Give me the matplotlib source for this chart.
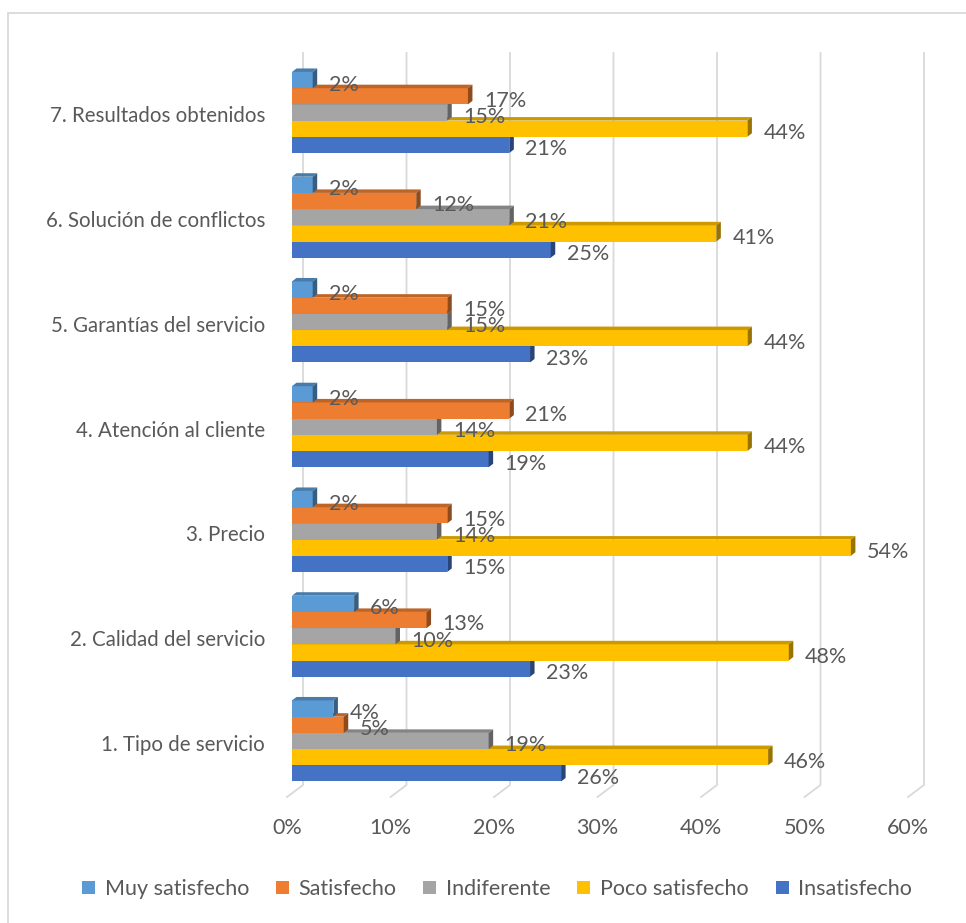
import matplotlib
matplotlib.use("Agg")
import matplotlib.pyplot as plt
import matplotlib.colors as mcolors
from matplotlib.patches import Polygon, Patch, Rectangle

# Valores por categoria (porcentaje de respuestas)
categories = [
    "1. Tipo de servicio",
    "2. Calidad del servicio",
    "3. Precio",
    "4. Atención al cliente",
    "5. Garantías del servicio",
    "6. Solución de conflictos",
    "7. Resultados obtenidos",
]
series_names = ["Muy satisfecho", "Satisfecho", "Indiferente",
                "Poco satisfecho", "Insatisfecho"]
muy_satisfecho = [4, 6, 2, 2, 2, 2, 2]
satisfecho = [5, 13, 15, 21, 15, 12, 17]
indiferente = [19, 10, 14, 14, 15, 21, 15]
poco_satisfecho = [46, 48, 54, 44, 44, 41, 44]
insatisfecho = [26, 23, 15, 19, 23, 25, 21]
x_ticks = [0, 10, 20, 30, 40, 50, 60]

COLORS = ["#5B9BD5", "#ED7D31", "#A5A5A5", "#FFC000", "#4472C4"]
TEXT = "#595959"
GRID = "#D9D9D9"
FONT = "Lato"

W, H, DPI = 966, 923, 100
plt.rcParams["font.family"] = [FONT, "DejaVu Sans"]

fig = plt.figure(figsize=(W / DPI, H / DPI), dpi=DPI)

# area de trazado en pixeles: eje x 0..60 %, y suelo/pared del grafico 3D
x0_px, x1_px = 292, 913
top_px, bot_px = 53, 797
ax = fig.add_axes([x0_px / W, 1 - bot_px / H,
                   (x1_px - x0_px) / W, (bot_px - top_px) / H])
ax.axis("off")

px_x = (x1_px - x0_px) / 60.0      # pixeles por 1 %
px_y = 104.75                     # pixeles por categoria
y_bot = -0.535
y_top = y_bot + (bot_px - top_px) / px_y
ax.set_xlim(0, 60)
ax.set_ylim(y_bot, y_top)

# profundidad de las barras y del suelo (en unidades de datos)
dx = 4.5 / px_x
dy = 3.5 / px_y
wall_dx = 11 / px_x
floor_dx = -5 / px_x
back_floor = y_bot + 12 / px_y

# rejilla: pared del fondo + diagonal del suelo
for t in x_ticks:
    ax.plot([t + wall_dx, t + wall_dx, t + floor_dx],
            [y_top, back_floor, y_bot],
            color=GRID, lw=1.3, zorder=1, clip_on=False,
            solid_joinstyle="miter")
    ax.annotate(f"{t}%", xy=(t + floor_dx, y_bot), xytext=(0, -22.5),
                textcoords="offset points", ha="center", va="center",
                fontsize=15.5, color=TEXT, annotation_clip=False)


def shade(c, f):
    r, g, b = mcolors.to_rgb(c)
    return (r * f, g * f, b * f)


bar_h = 16.2 / px_y
values = [muy_satisfecho, satisfecho, indiferente, poco_satisfecho, insatisfecho]
ys = list(range(len(categories)))

# se dibuja de abajo hacia arriba para que cada barra tape la cara
# superior de la que esta debajo
for k in range(len(series_names) - 1, -1, -1):
    vals = values[k]
    col = COLORS[k]
    z = 2 + (len(series_names) - 1 - k)
    offs = (2 - k) * bar_h
    centers = [y + offs for y in ys]
    ax.barh(centers, vals, height=bar_h, color=col, zorder=z,
            linewidth=0)
    for yc, v in zip(centers, vals):
        yb, yt = yc - bar_h / 2, yc + bar_h / 2
        top = [(0, yt), (v, yt), (v + dx, yt + dy), (dx, yt + dy)]
        side = [(v, yb), (v + dx, yb + dy), (v + dx, yt + dy), (v, yt)]
        ax.add_patch(Polygon(top, closed=True, facecolor=shade(col, 0.8),
                             edgecolor="none", zorder=z))
        ax.add_patch(Polygon(side, closed=True, facecolor=shade(col, 0.6),
                             edgecolor="none", zorder=z))
        ax.annotate(f"{v}%", xy=(v, yc), xytext=(11.5, -3.2),
                    textcoords="offset points", ha="left", va="center",
                    fontsize=15.5, color=TEXT, zorder=10,
                    annotation_clip=False)

for y, name in zip(ys, categories):
    ax.annotate(name, xy=(0, y), xytext=(-19.4, -2.9),
                textcoords="offset points", ha="right", va="center",
                fontsize=14.8, color=TEXT, annotation_clip=False)

handles = [Patch(facecolor=c, edgecolor="none") for c in COLORS]
fig.legend(handles, series_names, loc="center",
           bbox_to_anchor=(497 / W, 1 - 889 / H), ncol=5, frameon=False,
           handlelength=0.6, handleheight=0.6, handletextpad=0.45,
           columnspacing=1.25, fontsize=15.5, labelcolor=TEXT)

# marco del area del grafico
fig.patches.append(Rectangle((8 / W, -0.01), 1.02, 1 - 13 / H + 0.01,
                             transform=fig.transFigure, fill=False,
                             edgecolor=GRID, lw=1.3))

fig.savefig("out.png", dpi=DPI)
